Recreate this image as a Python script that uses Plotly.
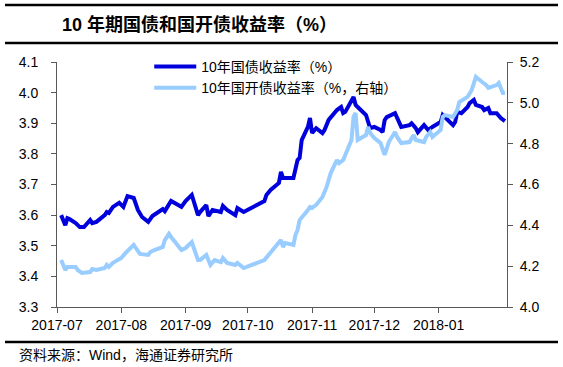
import plotly.graph_objects as go

# 10Y government bond yield (left axis, %)
gov_dates = ["2017-07-03","2017-07-05","2017-07-06","2017-07-07","2017-07-10","2017-07-12","2017-07-14","2017-07-17",
             "2017-07-18","2017-07-20","2017-07-24","2017-07-25","2017-07-26","2017-07-28","2017-07-31","2017-08-02",
             "2017-08-04","2017-08-07","2017-08-09","2017-08-11","2017-08-14","2017-08-15","2017-08-16","2017-08-21",
             "2017-08-22","2017-08-25","2017-08-28","2017-08-30","2017-09-01","2017-09-04","2017-09-07","2017-09-08",
             "2017-09-11","2017-09-12","2017-09-14","2017-09-18","2017-09-19","2017-09-21","2017-09-25","2017-09-26",
             "2017-09-29","2017-10-09","2017-10-10","2017-10-12","2017-10-16","2017-10-17","2017-10-18","2017-10-20",
             "2017-10-23","2017-10-25","2017-10-26","2017-10-27","2017-10-30","2017-10-31","2017-11-01","2017-11-03",
             "2017-11-06","2017-11-07","2017-11-09","2017-11-13","2017-11-15","2017-11-16","2017-11-17","2017-11-21",
             "2017-11-22","2017-11-23","2017-11-27","2017-11-29","2017-12-01","2017-12-04","2017-12-05","2017-12-06",
             "2017-12-07","2017-12-11","2017-12-13","2017-12-14","2017-12-18","2017-12-19","2017-12-21","2017-12-22",
             "2017-12-25","2017-12-27","2017-12-29","2018-01-02","2018-01-03","2018-01-04","2018-01-05","2018-01-08",
             "2018-01-09","2018-01-10","2018-01-12","2018-01-15","2018-01-16","2018-01-18","2018-01-19","2018-01-22",
             "2018-01-23","2018-01-25","2018-01-26","2018-01-29","2018-01-31","2018-02-01","2018-02-02"]
gov_values = [3.600,3.567,3.590,3.587,3.574,3.561,3.561,3.584,
              3.574,3.578,3.600,3.610,3.607,3.627,3.640,3.627,
              3.662,3.656,3.617,3.594,3.578,3.590,3.597,3.620,
              3.613,3.646,3.633,3.627,3.646,3.666,3.600,3.610,
              3.633,3.597,3.617,3.610,3.630,3.617,3.600,3.623,
              3.610,3.646,3.666,3.682,3.705,3.741,3.721,3.721,
              3.721,3.780,3.787,3.845,3.888,3.917,3.868,3.884,
              3.868,3.878,3.911,3.943,3.953,3.933,3.937,3.986,
              3.960,3.953,3.927,3.884,3.888,3.878,3.871,3.910,
              3.920,3.933,3.904,3.888,3.894,3.900,3.884,3.871,
              3.894,3.878,3.888,3.904,3.927,3.920,3.917,3.894,
              3.904,3.937,3.933,3.953,3.966,3.976,3.960,3.953,
              3.943,3.950,3.933,3.933,3.917,3.910,3.907]

# 10Y China Development Bank bond yield (right axis, %)
cdb_dates = ["2017-07-03","2017-07-05","2017-07-06","2017-07-10","2017-07-11","2017-07-13","2017-07-17","2017-07-18",
             "2017-07-20","2017-07-24","2017-07-25","2017-07-26","2017-07-28","2017-07-31","2017-08-01","2017-08-03",
             "2017-08-07","2017-08-08","2017-08-10","2017-08-14","2017-08-15","2017-08-17","2017-08-21","2017-08-22",
             "2017-08-24","2017-08-25","2017-08-28","2017-08-30","2017-09-01","2017-09-04","2017-09-07","2017-09-08",
             "2017-09-11","2017-09-13","2017-09-15","2017-09-18","2017-09-19","2017-09-21","2017-09-25","2017-09-26",
             "2017-09-29","2017-10-09","2017-10-11","2017-10-13","2017-10-17","2017-10-18","2017-10-19","2017-10-23",
             "2017-10-24","2017-10-25","2017-10-26","2017-10-30","2017-10-31","2017-11-01","2017-11-03","2017-11-06",
             "2017-11-07","2017-11-08","2017-11-10","2017-11-13","2017-11-14","2017-11-16","2017-11-20","2017-11-21",
             "2017-11-22","2017-11-23","2017-11-27","2017-11-28","2017-11-29","2017-12-01","2017-12-04","2017-12-05",
             "2017-12-06","2017-12-08","2017-12-11","2017-12-12","2017-12-14","2017-12-18","2017-12-20","2017-12-21",
             "2017-12-25","2017-12-26","2017-12-28","2017-12-29","2018-01-02","2018-01-03","2018-01-04","2018-01-08",
             "2018-01-10","2018-01-11","2018-01-15","2018-01-17","2018-01-19","2018-01-22","2018-01-24","2018-01-25",
             "2018-01-29","2018-01-30","2018-02-01","2018-02-02"]
cdb_values = [4.230,4.181,4.196,4.196,4.181,4.167,4.171,4.186,
              4.181,4.191,4.206,4.196,4.216,4.230,4.240,4.264,
              4.304,4.289,4.260,4.255,4.269,4.279,4.294,4.328,
              4.358,4.343,4.304,4.279,4.289,4.318,4.230,4.230,
              4.255,4.206,4.230,4.220,4.240,4.216,4.206,4.216,
              4.191,4.230,4.255,4.279,4.328,4.294,4.313,4.304,
              4.353,4.377,4.426,4.475,4.490,4.485,4.500,4.539,
              4.563,4.588,4.656,4.720,4.705,4.720,4.818,4.931,
              4.950,4.818,4.842,4.882,4.852,4.828,4.803,4.769,
              4.745,4.808,4.857,4.833,4.803,4.808,4.842,4.818,
              4.808,4.833,4.857,4.833,4.867,4.931,4.940,4.931,
              4.965,5.004,5.029,5.063,5.127,5.102,5.087,5.073,
              5.087,5.097,5.048,5.048]

month_ticks = ["2017-07-01","2017-08-01","2017-09-01","2017-10-01","2017-11-01","2017-12-01","2018-01-01"]
month_labels = ["2017-07","2017-08","2017-09","2017-10","2017-11","2017-12","2018-01"]

name_gov = "10年国债收益率（%）"
name_cdb = "10年国开债收益率（%，右轴）"
title_text = "10 年期国债和国开债收益率（%）"
source_text = "资料来源：Wind，海通证券研究所"

FONT = "Liberation Sans, Arial, Noto Sans CJK SC, sans-serif"
AX = "#595959"

fig = go.Figure()
fig.add_trace(go.Scatter(x=gov_dates, y=gov_values, name=name_gov, mode="lines",
                         line=dict(color="#0000DD", width=4), yaxis="y"))
fig.add_trace(go.Scatter(x=cdb_dates, y=cdb_values, name=name_cdb, mode="lines",
                         line=dict(color="#99CCFF", width=4), yaxis="y2"))

fig.update_layout(
    width=563, height=367,
    margin=dict(l=57, r=56, t=62, b=60),
    paper_bgcolor="white", plot_bgcolor="white",
    font=dict(family=FONT, size=14, color="black"),
    showlegend=True,
    legend=dict(x=0.205, y=1.045, xanchor="left", yanchor="top",
                bgcolor="rgba(0,0,0,0)", itemwidth=42, tracegroupgap=0,
                font=dict(family="Liberation Sans, Noto Sans CJK SC", size=14, color="black")),
    title=dict(text="<b>" + title_text + "</b>", xref="container", yref="container",
               x=62/563, xanchor="left", y=1-25/367, yanchor="middle",
               font=dict(family="Liberation Sans, Noto Sans CJK SC", size=18, color="black")),
    xaxis=dict(type="date", range=["2017-07-01", "2018-02-03"],
               tickvals=month_ticks, ticktext=month_labels,
               showgrid=False, zeroline=False, showline=True, linecolor=AX, linewidth=1,
               ticks="outside", ticklen=5, tickcolor=AX,
               tickfont=dict(size=14, color="black")),
    yaxis=dict(range=[3.3, 4.1], dtick=0.1, tick0=3.3, tickformat=".1f",
               showgrid=False, zeroline=False, showline=True, linecolor=AX, linewidth=1,
               ticks="outside", ticklen=5, tickcolor=AX, ticklabelstandoff=10,
               tickfont=dict(size=14, color="black")),
    yaxis2=dict(range=[4.0, 5.2], dtick=0.2, tick0=4.0, tickformat=".1f", overlaying="y", side="right",
                showgrid=False, zeroline=False, showline=True, linecolor=AX, linewidth=1,
                ticks="outside", ticklen=5, tickcolor=AX, ticklabelstandoff=4,
                tickfont=dict(size=14, color="black")),
)

# decorative rules above/below title and above source
for ypx in (5, 43, 342):
    fig.add_shape(type="line", xref="paper", yref="paper",
                  x0=(5-57)/450, x1=(558-57)/450,
                  y0=1+(62-ypx)/245, y1=1+(62-ypx)/245,
                  line=dict(color="black", width=2.5))

fig.add_annotation(text=source_text, xref="paper", yref="paper",
                   x=(17-57)/450, y=1+(62-355)/245, xanchor="left", yanchor="middle",
                   showarrow=False, font=dict(family="Liberation Sans, Noto Sans CJK SC", size=14, color="black"))

fig.write_html("out.html",
               config={"displayModeBar": False},
               post_script="document.body.style.margin='0';document.body.style.padding='0';document.body.style.overflow='hidden';")
